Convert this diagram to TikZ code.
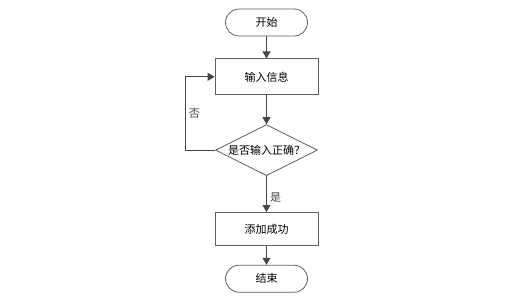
\documentclass[tikz,border=0pt]{standalone}
\usepackage{fontspec}
\newfontfamily\cjk{Noto Sans CJK SC}
\definecolor{flowLine}{RGB}{70,70,70}
\definecolor{flowBorder}{RGB}{95,95,95}
\usetikzlibrary{arrows.meta,positioning,shapes.geometric}

\begin{document}
\begin{tikzpicture}[x=1pt, y=-1pt,
  term/.style={draw=flowBorder, line width=0.8pt, rounded corners=13.5pt,
              minimum width=82pt, minimum height=27pt, font=\cjk\fontsize{11}{13}\selectfont},
  proc/.style={draw=flowBorder, line width=0.8pt, minimum width=103pt,
              minimum height=36pt, font=\cjk\fontsize{11}{13}\selectfont},
  decide/.style={draw=flowBorder, line width=0.8pt, diamond, aspect=2, inner sep=0pt,
              minimum width=102pt, minimum height=51pt, font=\cjk\fontsize{11}{13}\selectfont},
  arr/.style={-{Triangle[length=7pt, width=8pt]}, line width=0.8pt, flowLine},
  lbl/.style={font=\cjk\fontsize{11}{13}\selectfont}
]
  \useasboundingbox (0,0) rectangle (526,300);

  \node[term] (start) at (266.5,22.5) {开始};
  \node[proc, below=22pt of start] (input) {输入信息};
  \node[decide, below=29pt of input] (check) {是否输入正确？};
  \node[proc, minimum height=33pt, below=36pt of check] (add) {添加成功};
  \node[term, below=19pt of add] (stop) {结束};

  \draw[arr] (start) -- (input);
  \draw[arr] (input) -- (check);
  \draw[arr] (check) -- node[lbl, right, pos=0.6] {是} (add);
  \draw[arr] (add) -- (stop);
  \draw[arr] (check.west) -- ++(-30,0) |- node[lbl, right, pos=0.25] {否} (input.west);
\end{tikzpicture}
\end{document}
